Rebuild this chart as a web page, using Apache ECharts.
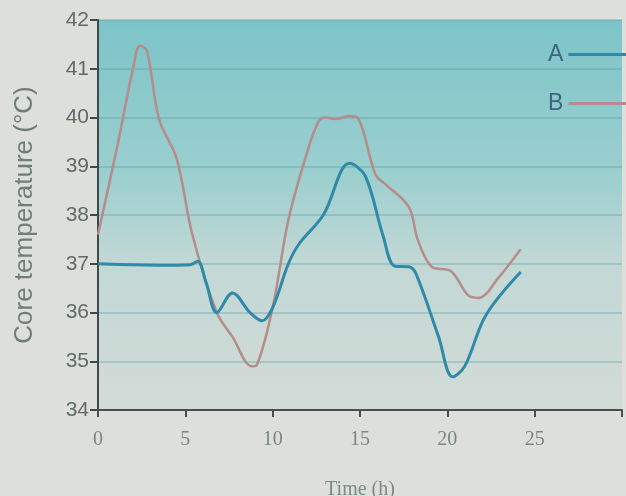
<!DOCTYPE html>
<html>
<head>
<meta charset="utf-8">
<script src="https://cdn.jsdelivr.net/npm/echarts@6/dist/echarts.min.js"></script>
<style>
  html, body { margin: 0; padding: 0; background: #dde0da; }
  #chart { width: 626px; height: 496px; }
</style>
</head>
<body>
<div id="chart"></div>
<script>
// Core temperature over time for two subjects
const timesA = [0, 2, 4, 5.3, 5.7, 6.2, 6.8, 7.7, 8.7, 9.4, 10.0, 10.9, 11.5, 12.9, 14.4, 15.3, 16.3, 17.0, 17.8, 18.2, 19.5, 20.3, 21.0, 22.2, 24.2];
const tempA  = [37.0, 36.98, 36.97, 36.98, 37.05, 36.6, 36.0, 36.4, 36.0, 35.83, 36.1, 37.0, 37.4, 38.0, 39.06, 38.8, 37.6, 36.95, 36.94, 36.8, 35.5, 34.68, 34.9, 35.94, 36.83];

const timesB = [0, 1.1, 2.0, 2.4, 2.8, 3.5, 4.5, 5.4, 6.8, 7.7, 8.8, 9.1, 10.0, 10.9, 11.9, 12.6, 13.05, 13.6, 14.35, 14.9, 15.9, 16.5, 17.8, 18.3, 19.1, 20.2, 21.2, 21.8, 22.9, 24.2];
const tempB  = [37.6, 39.4, 41.0, 41.47, 41.37, 39.96, 39.16, 37.6, 36.0, 35.5, 34.9, 34.93, 36.1, 37.9, 39.2, 39.9, 40.0, 39.97, 40.03, 39.98, 38.82, 38.62, 38.16, 37.5, 36.94, 36.85, 36.35, 36.3, 36.7, 37.3];

const seriesNames = ['A', 'B'];
const xTicks = [0, 5, 10, 15, 20, 25];

const pairs = (xs, ys) => xs.map((x, i) => [x, ys[i]]);

const chart = echarts.init(document.getElementById('chart'));
chart.setOption({
  backgroundColor: '#dde0da',
  animation: false,
  grid: {
    left: 98, right: 4, top: 20, bottom: 86,
    outerBoundsMode: 'none',
    containLabel: false,
    show: true,
    borderWidth: 0,
    backgroundColor: new echarts.graphic.LinearGradient(0, 0, 0, 1, [
      { offset: 0, color: '#7cc4c8' },
      { offset: 0.4, color: '#9ccfcf' },
      { offset: 0.62, color: '#c2d8d5' },
      { offset: 1, color: '#d3dbd7' }
    ])
  },
  legend: {
    orient: 'vertical',
    left: 543, top: 38,
    align: 'right',
    itemWidth: 62, itemHeight: 3,
    itemGap: 26,
    icon: 'rect',
    textStyle: { fontFamily: 'Liberation Sans', fontSize: 23, color: '#3d6680' },
    data: seriesNames
  },
  xAxis: {
    type: 'value',
    min: 0, max: 30, interval: 5,
    name: 'Time (h)',
    nameLocation: 'middle',
    nameGap: 70,
    nameTextStyle: { fontFamily: 'Liberation Serif', fontSize: 20, color: '#7d8a88' },
    axisLine: { lineStyle: { color: '#4a4e50', width: 2 } },
    axisTick: { show: true, length: 7, lineStyle: { color: '#4a4e50', width: 2 } },
    axisLabel: {
      fontFamily: 'Liberation Serif', fontSize: 20, color: '#7a8684', margin: 20,
      formatter: v => (xTicks.indexOf(v) >= 0 ? String(v) : '')
    },
    splitLine: { show: false }
  },
  yAxis: {
    type: 'value',
    min: 34, max: 42, interval: 1,
    name: 'Core temperature (°C)',
    nameLocation: 'middle',
    nameGap: 60,
    nameTextStyle: { fontFamily: 'Liberation Sans', fontSize: 26, color: '#6f7d7b' },
    axisLine: { show: true, lineStyle: { color: '#3e4a4c', width: 2 } },
    axisTick: { show: true, length: 8, lineStyle: { color: '#3e4a4c', width: 2 } },
    axisLabel: { fontFamily: 'Liberation Sans Narrow, Liberation Sans', fontSize: 21, color: '#5e6a6c', margin: 9 },
    splitLine: { show: true, lineStyle: { color: 'rgba(70,150,160,0.4)', width: 1.5 } }
  },
  series: [
    {
      name: seriesNames[0], type: 'line',
      data: pairs(timesA, tempA),
      smooth: 0.35, showSymbol: false,
      itemStyle: { color: '#2f8aa8' },
      lineStyle: { color: '#2f8aa8', width: 3 },
      z: 3
    },
    {
      name: seriesNames[1], type: 'line',
      data: pairs(timesB, tempB),
      smooth: 0.35, showSymbol: false,
      itemStyle: { color: '#b58c8a' },
      lineStyle: { color: '#b58c8a', width: 2.5 },
      z: 2
    }
  ]
});
</script>
</body>
</html>
